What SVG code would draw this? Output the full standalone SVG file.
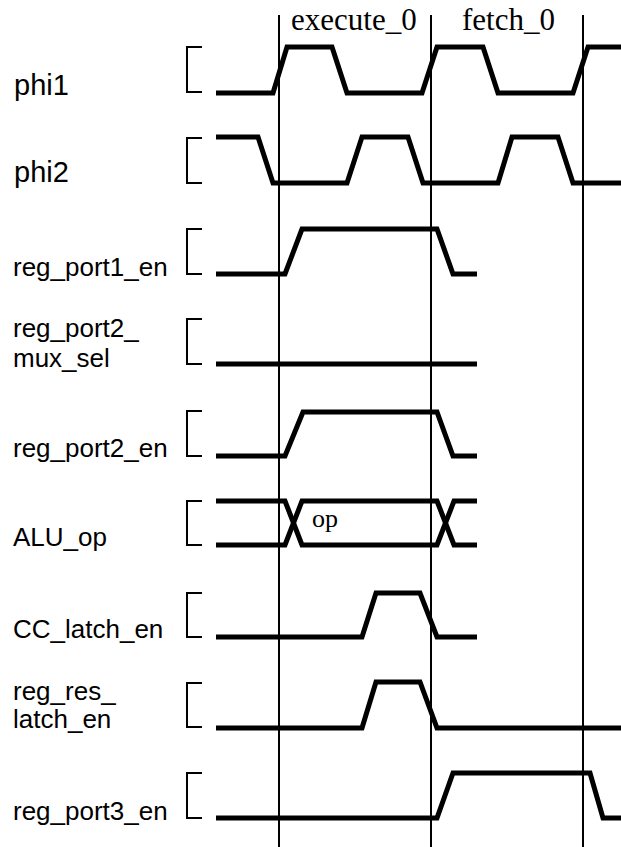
<svg xmlns="http://www.w3.org/2000/svg" width="621" height="847" viewBox="0 0 621 847">
  <style>
    .lbl { font-family: "Liberation Sans", Arial, sans-serif; font-size: 26px; fill: #000; }
    .big { font-size: 29px; }
    .ser { font-family: "Liberation Serif", "Times New Roman", serif; fill: #000; }
    .wave { fill: none; stroke: #000; stroke-width: 5; stroke-linecap: butt; stroke-linejoin: miter; }
    .brk { fill: none; stroke: #000; stroke-width: 2; }
    .mark { stroke: #000; stroke-width: 2; }
  </style>
  <rect width="621" height="847" fill="#fff"/>

  <g id="header">
    <text class="ser" x="291" y="30" font-size="31">execute_0</text>
    <text class="ser" x="462" y="30" font-size="31">fetch_0</text>
  </g>

  <g id="sig-phi1">
    <text class="lbl big" x="14" y="95">phi1</text>
    <path class="brk" d="M202,47 H187 V92 H202"/>
    <path class="wave" d="M216,93 H273 L287,47 H332 L347,93 H422 L437,47 H483 L498,93 H573 L588,47 H621"/>
  </g>

  <g id="sig-phi2">
    <text class="lbl big" x="14" y="182">phi2</text>
    <path class="brk" d="M202,138 H187 V183 H202"/>
    <path class="wave" d="M216,137 H258 L273,183 H347 L362,137 H408 L423,183 H498 L512,137 H558 L573,183 H621"/>
  </g>

  <g id="sig-reg_port1_en">
    <text class="lbl" x="13" y="276">reg_port1_en</text>
    <path class="brk" d="M202,229 H187 V274 H202"/>
    <path class="wave" d="M216,274 H285 L302,229 H437 L453,274 H477"/>
  </g>

  <g id="sig-reg_port2_mux_sel">
    <text class="lbl" x="13" y="337">reg_port2_</text>
    <text class="lbl" x="13" y="367">mux_sel</text>
    <path class="brk" d="M202,319 H187 V364 H202"/>
    <path class="wave" d="M216,364 H477"/>
  </g>

  <g id="sig-reg_port2_en">
    <text class="lbl" x="13" y="457">reg_port2_en</text>
    <path class="brk" d="M202,411 H187 V456 H202"/>
    <path class="wave" d="M216,456 H285 L303,412 H437 L453,456 H477"/>
  </g>

  <g id="sig-ALU_op">
    <text class="lbl" x="13" y="546">ALU_op</text>
    <path class="brk" d="M202,501 H187 V545 H202"/>
    <path class="wave" d="M216,501 H285 L302,545 H437 L454,501 H477"/>
    <path class="wave" d="M216,545 H285 L302,501 H437 L454,545 H477"/>
    <text class="ser" x="312" y="527" font-size="26">op</text>
  </g>

  <g id="sig-CC_latch_en">
    <text class="lbl" x="13" y="638">CC_latch_en</text>
    <path class="brk" d="M202,593 H187 V637 H202"/>
    <path class="wave" d="M216,637 H362 L376,593 H420 L437,637 H477"/>
  </g>

  <g id="sig-reg_res_latch_en">
    <text class="lbl" x="13" y="700">reg_res_</text>
    <text class="lbl" x="13" y="728">latch_en</text>
    <path class="brk" d="M202,683 H187 V727 H202"/>
    <path class="wave" d="M216,728 H362 L376,682 H420 L437,728 H621"/>
  </g>

  <g id="sig-reg_port3_en">
    <text class="lbl" x="13" y="820">reg_port3_en</text>
    <path class="brk" d="M202,773 H187 V818 H202"/>
    <path class="wave" d="M216,818 H437 L453,773 H590 L603,818 H621"/>
  </g>

  <g id="connectors">
    <line class="mark" x1="279" y1="15" x2="279" y2="847"/>
    <line class="mark" x1="431" y1="15" x2="431" y2="847"/>
    <line class="mark" x1="583" y1="15" x2="583" y2="847"/>
  </g>
</svg>
